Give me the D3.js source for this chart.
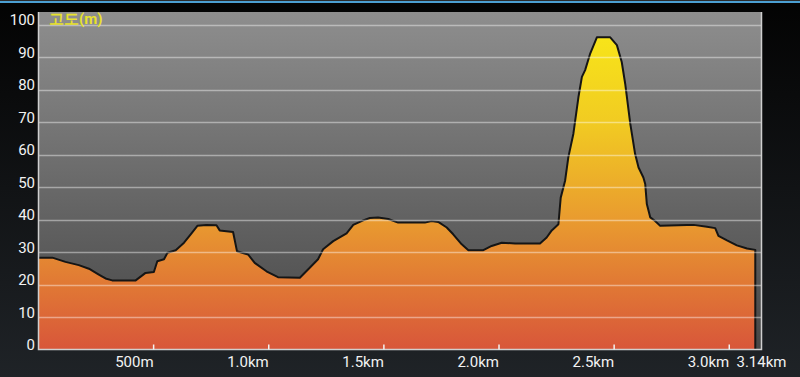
<!DOCTYPE html>
<html>
<head>
<meta charset="utf-8">
<script src="https://cdn.jsdelivr.net/npm/d3@7"></script>
<style>
    html, body { margin: 0; padding: 0; background: #000; }
    #elevation-chart { width: 800px; height: 377px; }
    text { font-family: Roboto, "Noto Sans", sans-serif; }
</style>
</head>
<body>
<div id="elevation-chart"></div>
<script>
// distance along the track (m) and altitude (m)
const distances = [0, 60, 117, 175, 219, 262, 291, 320, 422, 465, 501, 516, 545, 560, 596, 632, 661, 690,
    729, 773, 787, 845, 862, 910, 939, 990, 1040, 1135, 1178, 1214, 1236, 1280, 1338, 1367, 1410, 1439,
    1475, 1519, 1562, 1678, 1707, 1736, 1773, 1801, 1838, 1867, 1932, 1968, 2012, 2070, 2178, 2207, 2229,
    2258, 2268, 2287, 2301, 2323, 2345, 2360, 2374, 2396, 2425, 2483, 2512, 2533, 2548, 2570, 2591, 2606,
    2627, 2635, 2642, 2657, 2678, 2700, 2816, 2845, 2903, 2939, 2953, 2990, 3033, 3077, 3113];
const altitudes = [28.3, 28.3, 27.0, 26.0, 24.9, 23.1, 21.9, 21.3, 21.3, 23.6, 23.9, 27.2, 27.8, 29.8, 30.6, 32.9, 35.5, 38.1,
    38.4, 38.3, 36.7, 36.2, 30.3, 29.3, 26.7, 24.1, 22.3, 22.1, 25.2, 27.8, 30.9, 33.4, 35.8, 38.4, 39.8, 40.5,
    40.7, 40.2, 39.1, 39.1, 39.6, 39.3, 37.6, 35.5, 32.4, 30.6, 30.6, 31.9, 32.9, 32.7, 32.7, 34.5, 36.7,
    38.6, 46.8, 52.0, 59.2, 66.5, 77.8, 84.0, 86.1, 91.2, 96.2, 96.2, 93.8, 88.6, 81.9, 69.6, 60.3, 56.1,
    53.0, 51.0, 44.8, 40.7, 39.6, 38.1, 38.4, 38.4, 37.8, 37.4, 35.0, 33.6, 32.1, 31.1, 30.7];

const yTicks = [0, 10, 20, 30, 40, 50, 60, 70, 80, 90, 100];
const xTickValues = [500, 1000, 1500, 2000, 2500, 3000];
const xTickLabels = ["500m", "1.0km", "1.5km", "2.0km", "2.5km", "3.0km"];
const totalDistance = 3140;
const totalLabel = "3.14km";
const yLabel = "고도(m)";

class ElevationChart
{
    constructor(parentElement) {
        this.parentElement = parentElement;
        this.data = distances.map((d, i) => ({dist: d, alt: altitudes[i]}));
        this.initVis();
    }

    initVis() {
        let vis = this;

        vis.width = 800;
        vis.height = 377;
        vis.plot = {left: 38.5, right: 761.5, top: 12, bottom: 349.5};

        vis.svg = d3.select("#" + vis.parentElement).append("svg")
            .attr("width", vis.width)
            .attr("height", vis.height);

        const defs = vis.svg.append("defs");

        // screen background: black at top fading to dark slate
        const bg = defs.append("linearGradient").attr("id", "bg-grad")
            .attr("x1", 0).attr("y1", 0).attr("x2", 0).attr("y2", 1);
        bg.append("stop").attr("offset", 0).attr("stop-color", "#030303");
        bg.append("stop").attr("offset", 1).attr("stop-color", "#1f2327");

        // plot background gray
        const pg = defs.append("linearGradient").attr("id", "plot-grad")
            .attr("x1", 0).attr("y1", 0).attr("x2", 0).attr("y2", 1);
        pg.append("stop").attr("offset", 0).attr("stop-color", "#8e8e8e");
        pg.append("stop").attr("offset", 1).attr("stop-color", "#464646");

        vis.x = d3.scaleLinear()
            .domain([0, totalDistance])
            .range([vis.plot.left, vis.plot.right]);

        vis.y = d3.scaleLinear()
            .domain([0, 104])
            .range([vis.plot.bottom, vis.plot.top]);

        // fill gradient tied to altitude
        const fg = defs.append("linearGradient").attr("id", "fill-grad")
            .attr("gradientUnits", "userSpaceOnUse")
            .attr("x1", 0).attr("x2", 0)
            .attr("y1", vis.y(100)).attr("y2", vis.y(0));
        fg.append("stop").attr("offset", 0).attr("stop-color", "#f8e818");
        fg.append("stop").attr("offset", 0.3).attr("stop-color", "#f1cb22");
        fg.append("stop").attr("offset", 0.6).attr("stop-color", "#e99b2f");
        fg.append("stop").attr("offset", 1).attr("stop-color", "#d8563a");

        vis.svg.append("rect")
            .attr("width", vis.width).attr("height", vis.height)
            .attr("fill", "url(#bg-grad)");

        // status-bar style strip at the very top
        vis.svg.append("rect").attr("x", 0).attr("y", 0).attr("width", vis.width).attr("height", 1)
            .attr("fill", "#2b2b2b");
        vis.svg.append("rect").attr("x", 0).attr("y", 1).attr("width", vis.width).attr("height", 2)
            .attr("fill", "#4b9fd2");

        vis.svg.append("rect")
            .attr("x", vis.plot.left).attr("y", vis.plot.top)
            .attr("width", vis.plot.right - vis.plot.left)
            .attr("height", vis.plot.bottom - vis.plot.top)
            .attr("fill", "url(#plot-grad)");

        vis.wrangleData();
    }

    wrangleData() {
        let vis = this;
        vis.displayData = vis.data;
        // closing point so the outline drops to the floor at the end of the track
        const last = vis.data[vis.data.length - 1];
        vis.outlineData = vis.data.concat([{dist: last.dist, alt: 0}]);
        vis.updateVis();
    }

    updateVis() {
        let vis = this;

        const area = d3.area()
            .x(d => vis.x(d.dist))
            .y0(vis.y(0))
            .y1(d => vis.y(d.alt));

        const line = d3.line()
            .x(d => vis.x(d.dist))
            .y(d => vis.y(d.alt));

        vis.svg.append("path")
            .datum(vis.displayData)
            .attr("d", area)
            .attr("fill", "url(#fill-grad)");

        vis.svg.append("path")
            .datum(vis.outlineData)
            .attr("d", line)
            .attr("fill", "none")
            .attr("stroke", "#151515")
            .attr("stroke-width", 2)
            .attr("stroke-linejoin", "round");

        // horizontal grid
        vis.svg.append("g").selectAll("line")
            .data(yTicks.filter(d => d > 0))
            .enter().append("line")
            .attr("x1", vis.plot.left).attr("x2", vis.plot.right)
            .attr("y1", d => Math.round(vis.y(d)) + 0.5)
            .attr("y2", d => Math.round(vis.y(d)) + 0.5)
            .attr("stroke", "#ffffff")
            .attr("stroke-opacity", 0.42)
            .attr("stroke-width", 1.3);

        // frame: left, bottom, right
        vis.svg.append("path")
            .attr("d", `M${vis.plot.left},${vis.plot.top}V${vis.plot.bottom}H${vis.plot.right}V${vis.plot.top}`)
            .attr("fill", "none")
            .attr("stroke", "#cfcfcf")
            .attr("stroke-width", 1.5);

        // y labels sit on their gridline
        vis.svg.append("g").selectAll("text")
            .data(yTicks)
            .enter().append("text")
            .attr("x", 35)
            .attr("y", d => vis.y(d) + 0.5)
            .attr("text-anchor", "end")
            .attr("font-size", 15)
            .attr("fill", "#f2f2f2")
            .text(d => d);

        // x ticks, labels end at the tick
        vis.svg.append("g").selectAll("line")
            .data(xTickValues)
            .enter().append("line")
            .attr("x1", d => vis.x(d)).attr("x2", d => vis.x(d))
            .attr("y1", vis.plot.bottom).attr("y2", vis.plot.bottom - 5)
            .attr("stroke", "#f2f2f2")
            .attr("stroke-width", 1.5);

        vis.svg.append("g").selectAll("text")
            .data(xTickValues)
            .enter().append("text")
            .attr("x", d => vis.x(d))
            .attr("y", 367)
            .attr("text-anchor", "end")
            .attr("font-size", 15)
            .attr("fill", "#f2f2f2")
            .text((d, i) => xTickLabels[i]);

        vis.svg.append("text")
            .attr("x", vis.x(totalDistance))
            .attr("y", 367)
            .attr("text-anchor", "middle")
            .attr("font-size", 15)
            .attr("fill", "#f2f2f2")
            .text(totalLabel);

        vis.svg.append("text")
            .attr("x", 49)
            .attr("y", 24)
            .attr("font-size", 15)
            .attr("font-weight", "bold")
            .attr("font-family", "Roboto, 'Noto Sans CJK KR', sans-serif")
            .attr("fill", "#e8e22c")
            .text(yLabel);
    }
}

new ElevationChart("elevation-chart");
</script>
</body>
</html>
